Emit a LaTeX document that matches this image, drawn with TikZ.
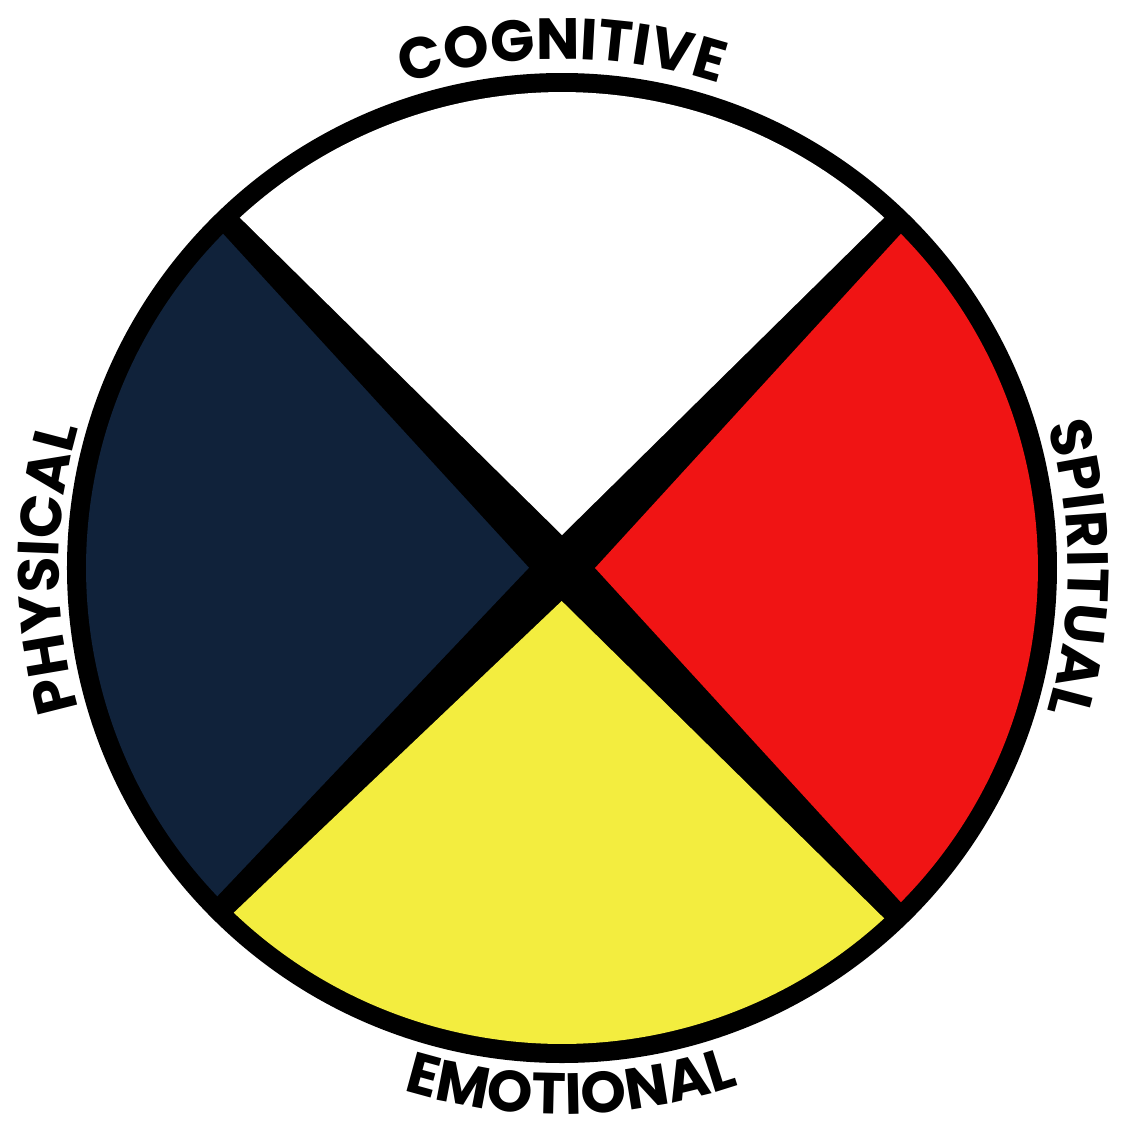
\documentclass[tikz,border=0pt]{standalone}
\usepackage{fontspec}
\newfontfamily\wheelfont{Poppins}
\usetikzlibrary{decorations.text}
\definecolor{wheelred}{HTML}{F01414}
\definecolor{wheelyellow}{HTML}{F3ED3F}
\definecolor{wheelnavy}{HTML}{10223A}
\tikzset{
    wheel diagram/.style = {x=0.1mm, y=0.1mm},
    rim/.style           = {fill=black},
    quarter/.style       = {line join=miter},
    curved label/.style  = {decorate, decoration={text along path,
                            text align=center, text={#1}}}
}
\newcommand\labelfont{\wheelfont\bfseries\fontsize{16.5}{16.5}\selectfont}
\def\outerradius{495}
\def\innerradius{476}
\def\tipdist{33}
\def\gap{1.4}

\begin{document}
\begin{tikzpicture}[wheel diagram]
\useasboundingbox (-562,-559) rectangle (560,568);

% Black disk gives the rim and the cross between the quarters.
\fill[rim] (0,0) circle[radius=\outerradius];

% Coloured quarters, each narrowing to a tip near the centre.
\foreach \from/\to/\col in {46/134/white, -46/46/wheelred,
                            225/314/wheelyellow, 134/225/wheelnavy} {
    \pgfmathsetmacro\midangle{(\from+\to)/2}
    \fill[quarter, \col] (\midangle:\tipdist)
        -- ({\from+\gap}:\innerradius)
        arc[start angle={\from+\gap}, end angle={\to-\gap},
            radius=\innerradius]
        -- cycle;
}

% Labels set along the rim.
\path[curved label={|\labelfont|COGNITIVE}]
    (170:509) arc[start angle=170, end angle=10, radius=509];
\path[curved label={|\labelfont|SPIRITUAL}]
    (80:506) arc[start angle=80, end angle=-80, radius=506];
\path[curved label={|\labelfont|PHYSICAL}]
    (260:503) arc[start angle=260, end angle=100, radius=503];
\path[curved label={|\labelfont|EMOTIONAL}]
    (191:546) arc[start angle=191, end angle=351, radius=546];

\end{tikzpicture}
\end{document}
